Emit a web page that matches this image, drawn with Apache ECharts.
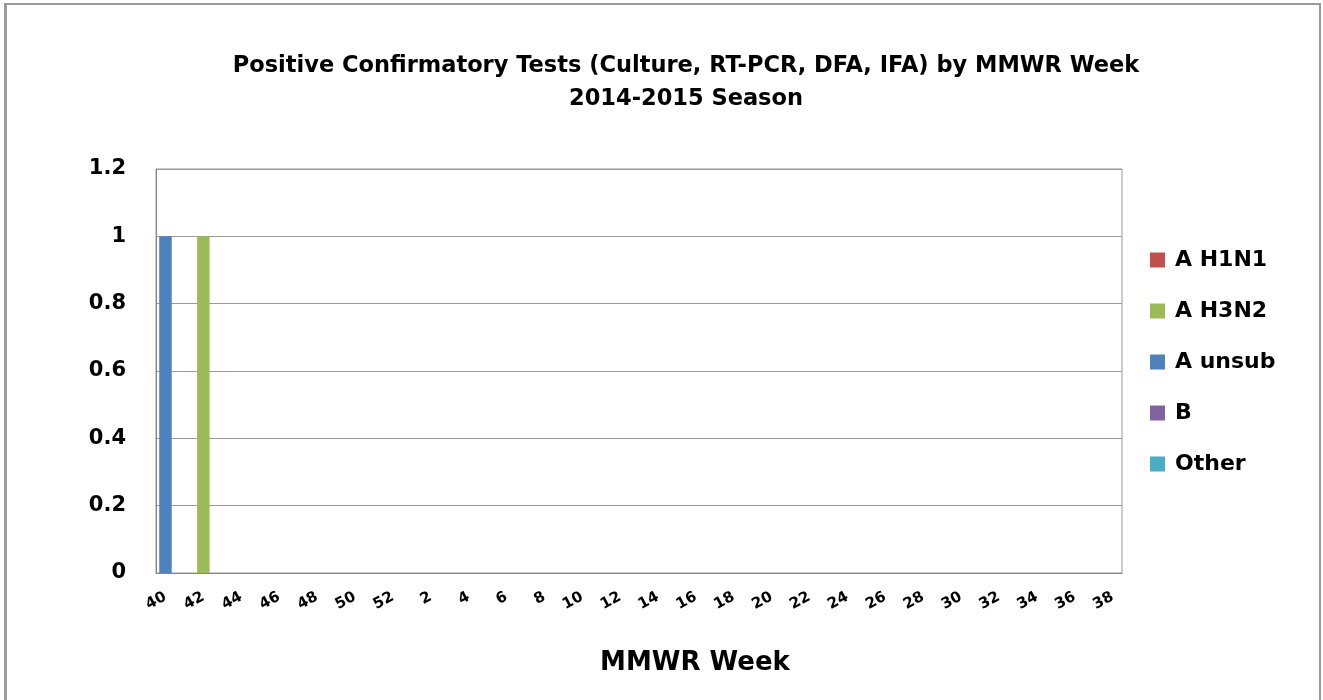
<!DOCTYPE html>
<html>
<head>
<meta charset="utf-8">
<script src="https://cdn.jsdelivr.net/npm/echarts@6/dist/echarts.min.js"></script>
<style>
  html, body { margin: 0; padding: 0; background: #fff; }
  #chart { width: 1323px; height: 700px; }
</style>
</head>
<body>
<div id="chart"></div>
<script>
// MMWR weeks 40-52 of 2014, then 1-38 of 2015
var weeks = [];
for (var w = 40; w <= 52; w++) weeks.push(String(w));
for (var w2 = 1; w2 <= 38; w2++) weeks.push(String(w2));

var seriesNames = ['A H1N1', 'A H3N2', 'A unsub', 'B', 'Other'];
var seriesColors = ['#C0504D', '#9BBB59', '#4F81BD', '#8064A2', '#4BACC6'];

// one positive test in week 40 (A unsub) and one in week 42 (A H3N2)
var aH1N1 = [0,0,0,0,0,0,0,0,0,0,0,0,0,0,0,0,0,0,0,0,0,0,0,0,0,0,0,0,0,0,0,0,0,0,0,0,0,0,0,0,0,0,0,0,0,0,0,0,0,0,0];
var aH3N2 = [0,0,1,0,0,0,0,0,0,0,0,0,0,0,0,0,0,0,0,0,0,0,0,0,0,0,0,0,0,0,0,0,0,0,0,0,0,0,0,0,0,0,0,0,0,0,0,0,0,0,0];
var aUnsub = [1,0,0,0,0,0,0,0,0,0,0,0,0,0,0,0,0,0,0,0,0,0,0,0,0,0,0,0,0,0,0,0,0,0,0,0,0,0,0,0,0,0,0,0,0,0,0,0,0,0,0];
var bType = [0,0,0,0,0,0,0,0,0,0,0,0,0,0,0,0,0,0,0,0,0,0,0,0,0,0,0,0,0,0,0,0,0,0,0,0,0,0,0,0,0,0,0,0,0,0,0,0,0,0,0];
var other = [0,0,0,0,0,0,0,0,0,0,0,0,0,0,0,0,0,0,0,0,0,0,0,0,0,0,0,0,0,0,0,0,0,0,0,0,0,0,0,0,0,0,0,0,0,0,0,0,0,0,0];
var seriesValues = [aH1N1, aH3N2, aUnsub, bType, other];

var font = '"DejaVu Sans", sans-serif';
var myChart = echarts.init(document.getElementById('chart'));

var option = {
  animation: false,
  backgroundColor: '#fff',
  title: [
    {
      text: 'Positive Confirmatory Tests (Culture, RT-PCR, DFA, IFA) by MMWR Week\n2014-2015 Season',
      left: 681,
      top: 45,
      textAlign: 'center',
      textStyle: { fontFamily: font, fontWeight: 'bold', fontSize: 22.5, color: '#000', lineHeight: 33 }
    },
    {
      text: 'MMWR Week',
      left: 690,
      top: 645,
      textAlign: 'center',
      textStyle: { fontFamily: font, fontWeight: 'bold', fontSize: 26, color: '#000' }
    }
  ],
  legend: {
    orient: 'vertical',
    left: 1145,
    top: 244,
    itemWidth: 15,
    itemHeight: 15,
    itemGap: 29,
    icon: 'rect',
    data: seriesNames,
    textStyle: { fontFamily: font, fontWeight: 'bold', fontSize: 22, color: '#000', padding: [0, 0, 0, 5] }
  },
  grid: {
    left: 156,
    right: 201,
    top: 169,
    bottom: 127,
    show: true,
    borderColor: '#9a9a9a',
    borderWidth: 1
  },
  xAxis: {
    type: 'category',
    data: weeks,
    axisTick: { show: false },
    axisLine: { lineStyle: { color: '#868686' } },
    axisLabel: {
      interval: 1,
      rotate: 28,
      margin: 23,
      fontFamily: font,
      fontWeight: 'bold',
      fontSize: 15,
      color: '#000'
    }
  },
  yAxis: {
    type: 'value',
    min: 0,
    max: 1.2,
    interval: 0.2,
    axisLine: { show: true, lineStyle: { color: '#868686' } },
    axisTick: { show: false },
    splitLine: { lineStyle: { color: '#9a9a9a' } },
    axisLabel: {
      margin: 30,
      fontFamily: font,
      fontWeight: 'bold',
      fontSize: 21,
      color: '#000',
      formatter: function (v) { return String(Math.round(v * 10) / 10); }
    }
  },
  series: seriesNames.map(function (name, i) {
    return {
      name: name,
      type: 'bar',
      stack: 'total',
      barCategoryGap: '34%',
      itemStyle: { color: seriesColors[i] },
      data: seriesValues[i]
    };
  }),
  graphic: [
    { type: 'rect', shape: { x: 4, y: 3, width: 3, height: 700 }, style: { fill: '#9a9a9a' } },
    { type: 'rect', shape: { x: 4, y: 3, width: 1316, height: 2 }, style: { fill: '#9a9a9a' } },
    { type: 'rect', shape: { x: 1319, y: 3, width: 2, height: 700 }, style: { fill: '#9a9a9a' } }
  ]
};

myChart.setOption(option);
</script>
</body>
</html>
